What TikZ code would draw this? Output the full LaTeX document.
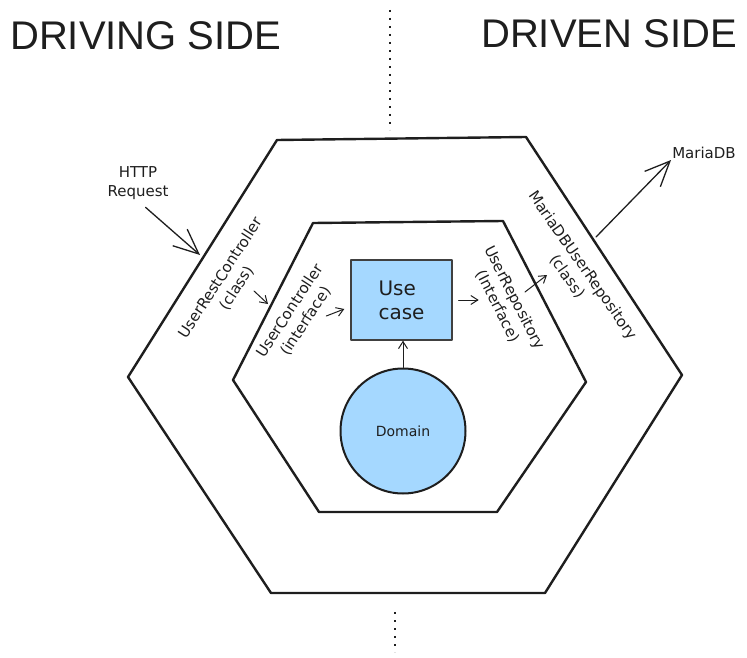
\documentclass[tikz,border=0pt]{standalone}
\usepackage{fontspec}
\setmainfont{DejaVu Sans}
\newfontfamily\headfont{Liberation Sans}
\usetikzlibrary{arrows.meta}
\definecolor{lightblue}{HTML}{A5D8FF}
\definecolor{ink}{HTML}{1E1E1E}

\begin{document}
\begin{tikzpicture}[x=1pt,y=-1pt,line join=round,line cap=round]
        \tikzstyle{hexline}=[draw=ink,line width=2.4pt]
        \tikzstyle{label}=[font=\fontsize{15}{19}\selectfont,align=center,inner sep=1pt,text=ink]
        \tikzstyle{side}=[font=\headfont\fontsize{40}{40}\selectfont,inner sep=0pt,text=ink]
        \tikzstyle{bigarrow}=[draw=ink,line width=1.3pt,-{Straight Barb[length=25pt,width=22pt]}]
        \tikzstyle{smallarrow}=[draw=ink,line width=1pt,-{Straight Barb[length=7pt,width=9pt]}]
        \tikzstyle{divider}=[draw=ink,line width=1.2pt,line cap=butt,dash pattern=on 2pt off 6pt]
        \useasboundingbox (0,0) rectangle (747,658);
       \begin{scope}
         % sides
         \node [side,anchor=base west] (driving) at (10,50) {DRIVING SIDE};
         \node [side,anchor=base east] (driven) at (737,48) {DRIVEN SIDE};
         \path[divider] (390,10) -- (390,130);
         \path[divider] (395,612) -- (395,652);

         % hexagons
         \path[hexline] (277,140) -- (526,137) -- (682,375) -- (545,593) -- (271,593) -- (128,377) -- cycle;
         \path[hexline] (313,223) -- (503,221) -- (586,382) -- (497,512) -- (319,512) -- (233,380) -- cycle;

         % core
         \node [draw=ink!85,fill=lightblue,line width=1.4pt,minimum width=101pt,minimum height=80pt,
                font=\fontsize{20}{24}\selectfont,align=left,text=ink] (uc) at (401.5,300) {Use\\case};
         \node [circle,draw=ink,fill=lightblue,line width=2pt,minimum size=125pt,inner sep=0pt,
                font=\fontsize{14}{16}\selectfont,text=ink] (dom) at (403,431) {Domain};

         % ports and adapters
         \node [label,rotate=57] (restctl) at (229,283) {UserRestController\\(class)};
         \node [label,rotate=57] (ifctl) at (298,316) {UserController\\(interface)};
         \node [label,rotate=-63] (ifrepo) at (506,302) {UserRepository\\(Interface)};
         \node [label,rotate=-55] (dbrepo) at (575,271) {MariaDBUserRepository\\(class)};
         \node [label] (http) at (138,183) {HTTP\\Request};
         \node [label] (maria) at (704,153) {MariaDB};

         \coordinate (httptip) at (200,255);
         \coordinate (dbport) at (596,237);
         \coordinate (rest1) at (254,291);
         \coordinate (rest2) at (268,304);
         \coordinate (repo1) at (525,292);
         \coordinate (repo2) at (547,275);

         \path[bigarrow,shorten <=10pt] (http.south) -- (httptip);
         \path[bigarrow] (dbport) -- (maria.south west);
         \path[smallarrow] (rest1) -- (rest2);
         \path[smallarrow] (uc.west) ++(-24,16) -- ++(18,-7);
         \path[smallarrow] (uc.east) ++(6,0) -- ++(20,0);
         \path[smallarrow] (repo1) -- (repo2);
         \path[smallarrow] (dom.north) -- (dom.north |- uc.south);
        \end{scope}
      \end{tikzpicture}
\end{document}
